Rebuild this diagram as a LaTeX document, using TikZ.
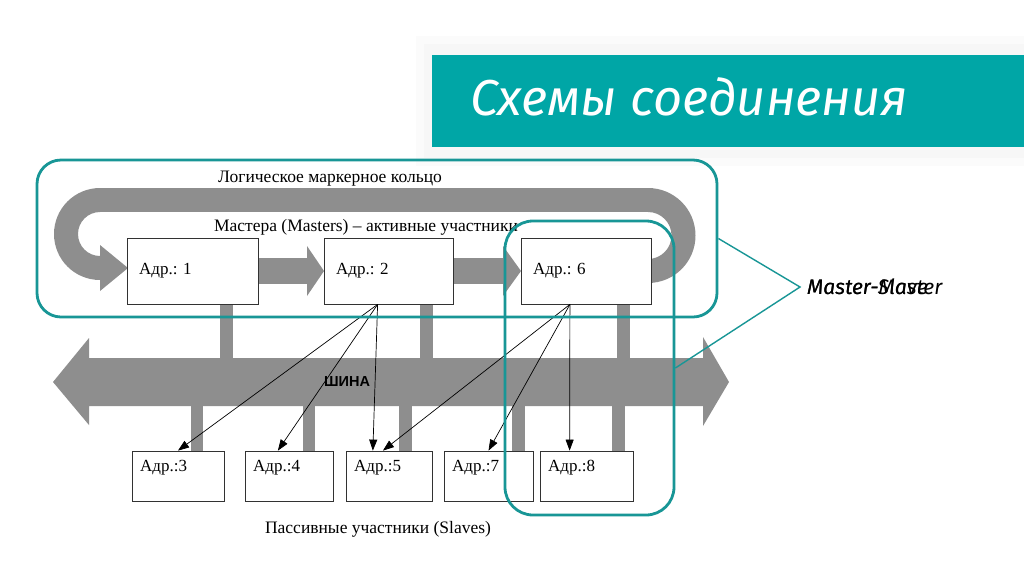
\documentclass[tikz,border=0pt]{standalone}
\usepackage{fontspec}
\setmainfont{Liberation Serif}
\newfontfamily\titlefont{Fira Sans}
\newfontfamily\busfont{Liberation Sans}
\usetikzlibrary{arrows.meta,calc}
\definecolor{tealT}{RGB}{0,166,166}
\definecolor{tealL}{RGB}{24,150,150}
\definecolor{ring}{RGB}{142,142,142}
\definecolor{edge}{RGB}{50,50,50}
\begin{document}
\begin{tikzpicture}[x=1pt,y=-1pt,
  gshape/.style={fill=ring,draw=none},
  mbox/.style={draw=edge,line width=0.8pt,fill=white,minimum height=66pt,inner sep=0pt},
  sbox/.style={draw=edge,line width=0.8pt,fill=white,minimum height=50pt,inner sep=0pt},
  grp/.style={draw=tealL,line width=2.8pt,inner sep=0pt},
  ptr/.style={draw=black,line width=0.7pt,-{Triangle[length=11pt,width=8pt]}},
  lbl/.style={font=\fontsize{17.5}{20}\selectfont},
  boxlbl/.style={font=\fontsize{17}{20}\selectfont},
  hand/.style={anchor=west,font=\titlefont\itshape\fontsize{21}{24}\selectfont,inner xsep=7pt},
]
\useasboundingbox (0,0) rectangle (1024,574);
\fill[white] (0,0) rectangle (1024,574);
% title shadow and bar
\fill[gray!3] (416,36) rectangle (1024,166);
\fill[gray!6] (424,44) rectangle (1024,158);
\fill[tealT] (432,55) rectangle (1024,147);
\node[anchor=base west,text=white,font=\titlefont\itshape\fontsize{50.5}{54}\selectfont,inner sep=0pt] (title) at (470,115) {Схемы соединения};

% logical token ring (gray)
\fill[gshape] (100,188) rectangle (648,212);
\fill[gshape] (100,188) arc[start angle=270,end angle=90,radius=46] -- (100,256)
   arc[start angle=90,end angle=270,radius=22] -- cycle;
\fill[gshape] (100,245) -- (128,268) -- (100,291) -- cycle;
\fill[gshape] (648,188) arc[start angle=270,end angle=450,radius=47.5] -- (648,259)
   arc[start angle=90,end angle=-90,radius=23.5] -- cycle;
% master-to-master arrows
\fill[gshape] (258,258) rectangle (307,284);
\fill[gshape] (307,246) -- (324,271) -- (307,296) -- cycle;
\fill[gshape] (453,258) rectangle (503,284);
\fill[gshape] (503,246) -- (521,271) -- (503,296) -- cycle;
% bus
\fill[gshape] (53,382) -- (89,338) -- (89,358) -- (703,358) -- (703,337) -- (729,382)
   -- (703,426) -- (703,406) -- (89,406) -- (89,425) -- cycle;
% stubs
\foreach \xa/\xb in {220/233,420/433,617/630} \fill[gshape] (\xa,300) rectangle (\xb,359);
\foreach \xa/\xb in {191/203,303/315,399/412,512/525,612/625} \fill[gshape] (\xa,405) rectangle (\xb,455);

% master boxes
\node[mbox,minimum width=131pt,label={[boxlbl,anchor=west,xshift=9pt]west:{Адр.: 1}}] (a1) at (192.5,271) {};
\node[mbox,minimum width=129pt,label={[boxlbl,anchor=west,xshift=9pt]west:{Адр.: 2}}] (a2) at (388.5,271) {};
\node[mbox,minimum width=130pt,label={[boxlbl,anchor=west,xshift=9pt]west:{Адр.: 6}}] (a6) at (586,271) {};
% slave boxes
\node[sbox,minimum width=92pt,label={[boxlbl,anchor=west,xshift=5pt,yshift=-17pt]north west:{Адр.:3}}] (s3) at (178,476) {};
\node[sbox,minimum width=88pt,label={[boxlbl,anchor=west,xshift=5pt,yshift=-17pt]north west:{Адр.:4}}] (s4) at (289,476) {};
\node[sbox,minimum width=86pt,label={[boxlbl,anchor=west,xshift=5pt,yshift=-17pt]north west:{Адр.:5}}] (s5) at (389,476) {};
\node[sbox,minimum width=89pt,label={[boxlbl,anchor=west,xshift=5pt,yshift=-17pt]north west:{Адр.:7}}] (s7) at (488.5,476) {};
\node[sbox,minimum width=93pt,label={[boxlbl,anchor=west,xshift=5pt,yshift=-17pt]north west:{Адр.:8}}] (s8) at (586.5,476) {};

% texts
\node[lbl] (ringtxt) at (330,179) {Логическое маркерное кольцо};
\node[lbl] (masttxt) at (366,227) {Мастера (Masters) – активные участники};
\node[lbl] (slvtxt) at (378,529) {Пассивные участники (Slaves)};
\node[font=\busfont\bfseries\fontsize{14.5}{16}\selectfont,inner sep=0pt] (bus) at (347,382) {ШИНА};

% addressing arrows
\coordinate (p2) at ($(a2.south west)!0.416!(a2.south east)$);
\coordinate (p6) at ($(a6.south west)!0.377!(a6.south east)$);
\draw[ptr] (p2) -- (s3.north);
\draw[ptr] (p2) -- ($(s4.north west)!0.375!(s4.north east)$);
\draw[ptr] (p2) -- ($(s5.north west)!0.314!(s5.north east)$);
\draw[ptr] (p6) -- ($(s5.north west)!0.43!(s5.north east)$);
\draw[ptr] (p6) -- (s7.north);
\draw[ptr] (p6) -- ($(s8.north west)!0.32!(s8.north east)$);

% teal groupings
\node[grp,rounded corners=24pt,minimum width=680pt,minimum height=157pt] (g1) at (377,238.5) {};
\node[grp,rounded corners=28pt,minimum width=169pt,minimum height=294pt] (g2) at (589.5,368) {};
\node[hand] (ms) at (800,287) {Master-Slave};
\node[hand] (mm) at (800,287) {Master-Master};
\draw[tealL,line width=1.4pt] (g1.east) -- (ms.west) -- (g2.east);
\end{tikzpicture}
\end{document}
